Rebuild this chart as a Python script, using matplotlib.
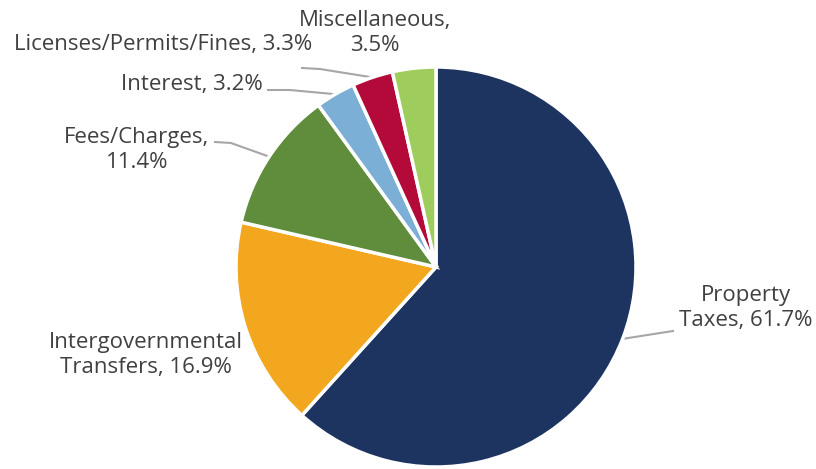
import matplotlib.pyplot as plt
import numpy as np

names = ["Property Taxes", "Intergovernmental Transfers", "Fees/Charges", "Interest", "Licenses/Permits/Fines", "Miscellaneous"]
shares = [61.7, 16.9, 11.4, 3.2, 3.3, 3.5]
colors = ["#1d3461", "#f3a71f", "#5f8d3b", "#7bafd6", "#b40a3a", "#9fcd5d"]

W, H = 816, 469
plt.rcParams['font.family'] = ['Open Sans', 'DejaVu Sans']

fig = plt.figure(figsize=(W / 100, H / 100), dpi=100)
ax = fig.add_axes([0, 0, 1, 1])

cx, cy, R = 436, H - 267, 200
wedges, _ = ax.pie(shares, colors=colors, startangle=90, counterclock=False,
                   center=(cx, cy), radius=R, frame=True,
                   wedgeprops=dict(edgecolor='white', linewidth=2.5))
ax.set_xlim(0, W)
ax.set_ylim(0, H)
ax.set_aspect('equal')
ax.axis('off')

# how each label is broken into lines
label_text = [
    "Property\nTaxes, %.1f%%",
    "Intergovernmental\nTransfers, %.1f%%",
    "Fees/Charges,\n%.1f%%",
    "Interest, %.1f%%",
    "Licenses/Permits/Fines, %.1f%%",
    "Miscellaneous,\n%.1f%%",
]
# label centre (pixels from top-left) and leader elbow points
label_pos = [(746, 308), (146, 355), (137, 150), (192, 84), (163, 44), (375, 33)]
leaders = [
    [(673, 331)],
    None,
    [(215, 142), (231, 143)],
    [(268, 90), (290, 90)],
    [(302, 68), (320, 69)],
    None,
]

txt = '#404040'
for i, w in enumerate(wedges):
    lx, ly = label_pos[i]
    ax.text(lx, H - ly, label_text[i] % shares[i], ha='center', va='center',
            fontsize=16, color=txt, linespacing=1.3)
    if leaders[i] is None:
        continue
    mid = np.deg2rad((w.theta1 + w.theta2) / 2)
    ex, ey = cx + R * np.cos(mid), cy + R * np.sin(mid)
    pts = [(x, H - y) for x, y in leaders[i]] + [(ex, ey)]
    xs, ys = zip(*pts)
    ax.plot(xs, ys, color='#a6a6a6', lw=1.5, zorder=0.5)

fig.savefig('out.png', dpi=100, facecolor='white')
